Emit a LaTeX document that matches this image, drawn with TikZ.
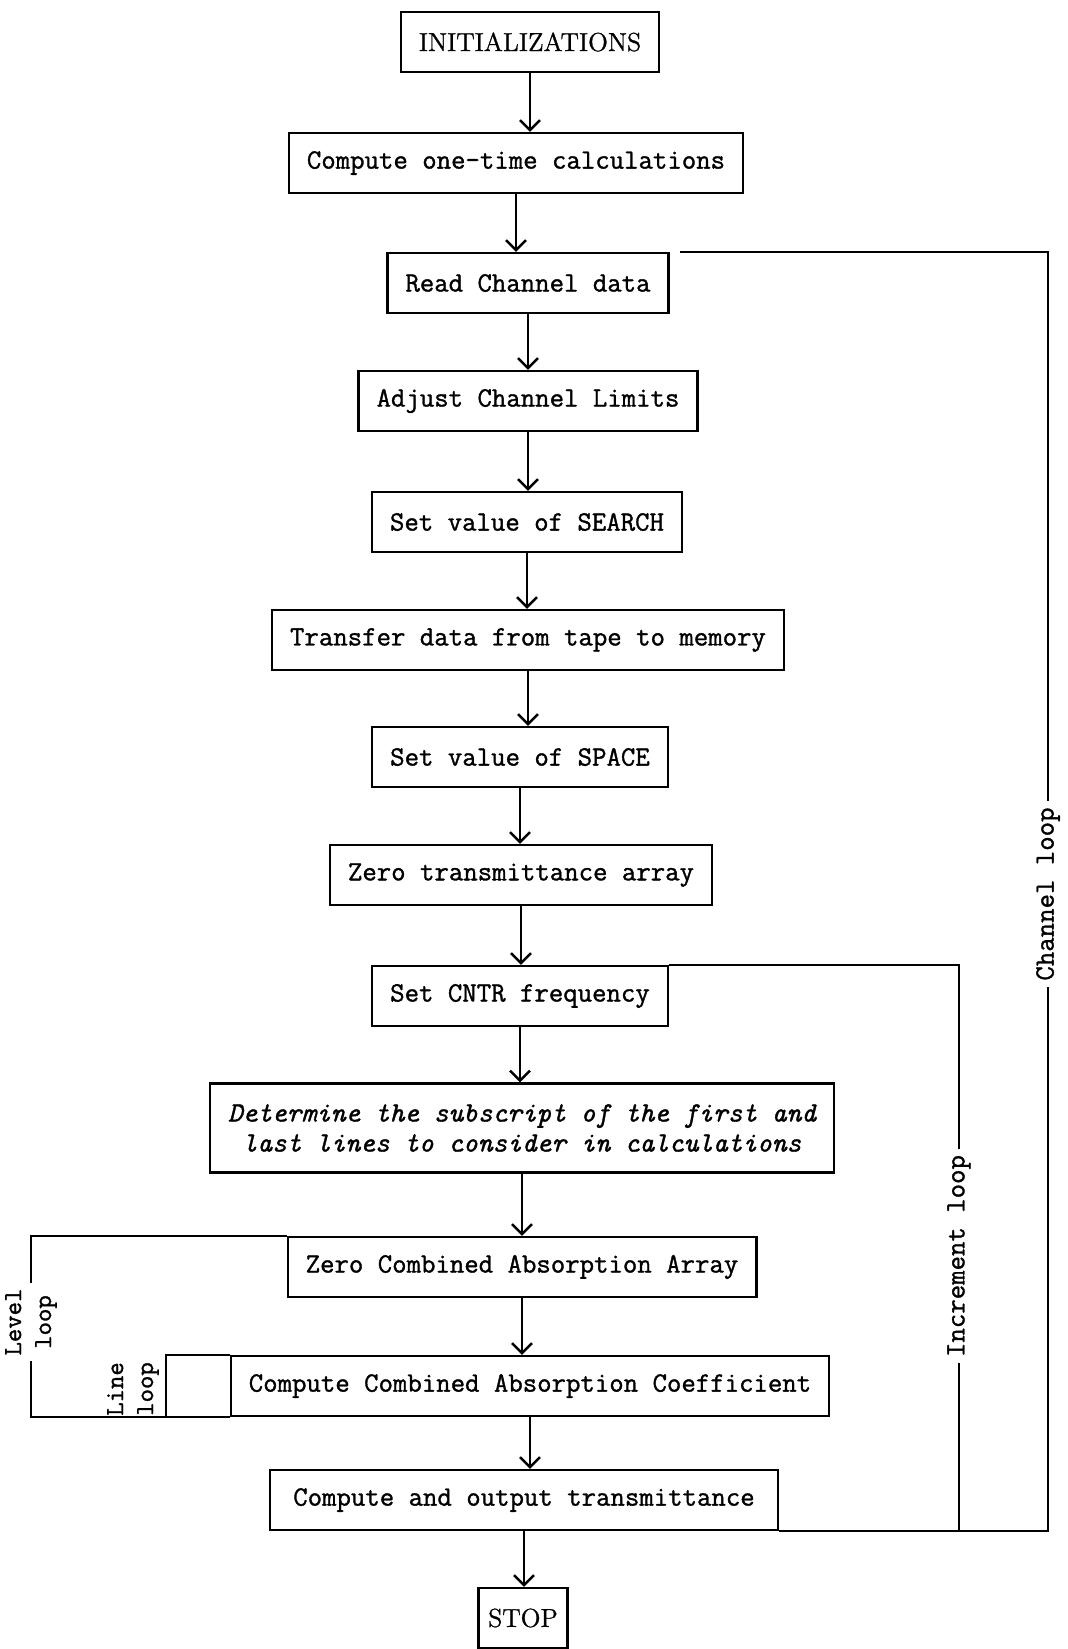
\documentclass[tikz,border=0pt]{standalone}
\usepackage{tikz}
\usepackage{fontspec}
\usetikzlibrary{arrows.meta,positioning}
\newfontfamily\typewfont{Latin Modern Mono}[FakeBold=1.2]
\newfontfamily\serifont{Latin Modern Roman}[FakeBold=1]
\tikzset
{
    stepnode/.style = {draw=black, line width=1.2pt, align=center, font=\typewfont\fontsize{14}{15}\selectfont, inner xsep=9pt, minimum height=30pt},
    endnode/.style = {draw=black, line width=1.2pt, font=\serifont\fontsize{13}{14}\selectfont, minimum height=30pt},
    looplabel/.style = {rotate=90, fill=white, align=center, inner sep=3pt, font=\typewfont\fontsize{14}{15}\selectfont}
}
\begin{document}
\begin{tikzpicture}[x=0.5pt,y=-0.5pt,>={Straight Barb[length=5pt,width=10pt]},line width=1.2pt]
\useasboundingbox (0,0) rectangle (1068,1649);
\node [endnode, minimum width=129pt] (init) at (530,42) {INITIALIZATIONS};
\node [stepnode] (onetime) at (516,163) {Compute one-time calculations};
\node [stepnode] (readchan) at (528,283) {Read Channel data};
\node [stepnode] (adjust) at (528,401) {Adjust Channel Limits};
\node [stepnode] (search) at (527,522) {Set value of SEARCH};
\node [stepnode] (transfer) at (528,640) {Transfer data from tape to memory};
\node [stepnode] (space) at (520,757) {Set value of SPACE};
\node [stepnode] (zerotrans) at (521,875) {Zero transmittance array};
\node [stepnode] (cntr) at (520,996) {Set CNTR frequency};
\node [stepnode, minimum height=44.5pt, font=\typewfont\itshape\fontsize{14}{15}\selectfont] (subscr) at (522,1128) {Determine the subscript of the first and\\last lines to consider in calculations};
\node [stepnode] (zerocomb) at (522,1267) {Zero Combined Absorption Array};
\node [stepnode] (coeff) at (530,1386) {Compute Combined Absorption Coefficient};
\node [stepnode, minimum width=254pt] (output) at (524,1500) {Compute and output transmittance};
\node [endnode, minimum width=44.5pt, inner xsep=4pt] (stop) at (523,1618) {STOP};

\foreach \a/\b in {init/onetime, onetime/readchan, readchan/adjust, adjust/search, search/transfer, transfer/space, space/zerotrans, zerotrans/cntr, cntr/subscr, subscr/zerocomb, zerocomb/coeff, coeff/output, output/stop}
    \draw [->] (\a.south) -- (\a.south |- \b.north);

% loops
\coordinate (chanx) at (1048,0);
\coordinate (incrx) at (959,0);
\coordinate (levelx) at (31,0);
\coordinate (linex) at (166,0);
\draw (readchan.north east) ++(5pt,0) -- (readchan.north east -| chanx) -- (chanx |- output.south east) -- (output.south east);
\draw (cntr.north east) -- (cntr.north east -| incrx) -- (incrx |- output.south east);
\draw (zerocomb.north west) -- (zerocomb.north west -| levelx) -- (levelx |- coeff.south west) -- (coeff.south west);
\draw (coeff.north west) -- (coeff.north west -| linex) -- (linex |- coeff.south west);
\node [looplabel] (chanlab) at (1048,894) {Channel loop};
\node [looplabel] (incrlab) at (959,1256) {Increment loop};
\node [looplabel, font=\typewfont\fontsize{13}{15}\selectfont] (levellab) at (31,1322) {Level\\loop};
\node [looplabel, fill=none, font=\typewfont\fontsize{13}{15}\selectfont] (linelab) at (133,1389) {Line\\loop};
\end{tikzpicture}
\end{document}
